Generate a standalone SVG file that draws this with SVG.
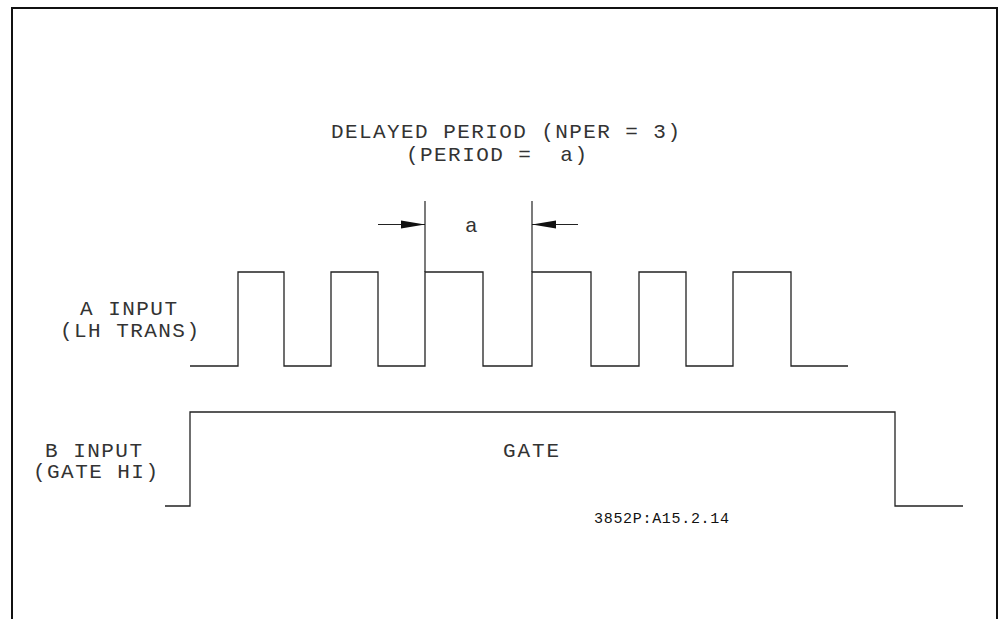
<svg xmlns="http://www.w3.org/2000/svg" width="1000" height="619" viewBox="0 0 1000 619">
<style>
.t{font-family:"Liberation Mono","DejaVu Sans Mono",monospace;font-size:21px;fill:#333}
.s{font-family:"Liberation Mono","DejaVu Sans Mono",monospace;font-size:15px;fill:#111}
.w{fill:none;stroke:#222;stroke-width:1.3}
.d{fill:none;stroke:#222;stroke-width:1.2}
</style>
<defs>
<marker id="ah" viewBox="0 0 24 10" refX="24" refY="5" markerWidth="24" markerHeight="10" markerUnits="userSpaceOnUse" orient="auto">
<path d="M0,1 L24,5 L0,9 Z" fill="#111"/>
</marker>
</defs>
<rect width="1000" height="619" fill="#fff"/>
<g id="frame" fill="none" stroke="#111">
<path d="M12,619 V8 H997 V619" stroke-width="2"/>
</g>
<g id="title">
<text class="t" x="331" y="138" textLength="349" lengthAdjust="spacing">DELAYED PERIOD (NPER = 3)</text>
<text class="t" x="406" y="161" textLength="181" lengthAdjust="spacing" xml:space="preserve">(PERIOD =  a)</text>
</g>
<g id="label-a">
<text class="t" x="80" y="315" textLength="97" lengthAdjust="spacing">A INPUT</text>
<text class="t" x="60" y="337" textLength="139" lengthAdjust="spacing">(LH TRANS)</text>
</g>
<g id="label-b">
<text class="t" x="45" y="457" textLength="97" lengthAdjust="spacing">B INPUT</text>
<text class="t" x="33" y="478" textLength="125" lengthAdjust="spacing">(GATE HI)</text>
</g>
<g id="gate-label">
<text class="t" x="503" y="457" textLength="56" lengthAdjust="spacing">GATE</text>
</g>
<g id="period-label">
<text class="t" x="465" y="232" font-size="18">a</text>
</g>
<g id="ref-label">
<text class="s" x="594" y="523" textLength="135" lengthAdjust="spacing">3852P:A15.2.14</text>
</g>
<g id="connectors">
<path id="wave-a" class="w" d="M190,366 H238 V272 H284 V366 H331 V272 H378 V366 H425 V272 H483 V366 H532 V272 H591 V366 H639 V272 H686 V366 H733 V272 H791 V366 H848"/>
<path id="wave-b" class="w" d="M165,506 H190 V412 H895 V506 H963"/>
<path class="d" d="M425,201 V272"/>
<path class="d" d="M532,201 V272"/>
<path class="d" d="M378,224.5 H425" marker-end="url(#ah)"/>
<path class="d" d="M578,224.5 H532" marker-end="url(#ah)"/>
</g>
</svg>
